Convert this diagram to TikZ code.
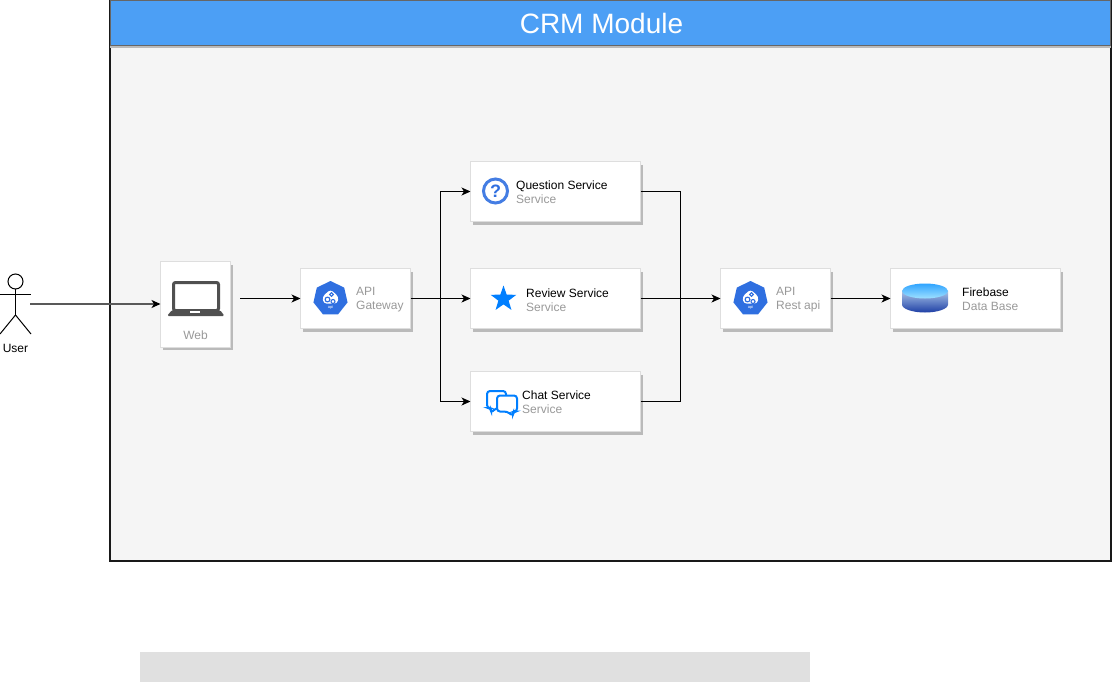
\documentclass[tikz,border=0pt]{standalone}
\usepackage{fontspec}
\setmainfont{Liberation Sans}
\usetikzlibrary{arrows.meta,shadows,shapes.geometric}
\definecolor{moduleBlue}{HTML}{4C9FF5}
\definecolor{kubeBlue}{HTML}{2F6FE0}
\definecolor{subGray}{HTML}{999999}
\definecolor{iconBlue}{HTML}{007FFF}
\definecolor{darkIcon}{HTML}{505050}
\definecolor{dbTop}{HTML}{2FA4FF}
\definecolor{dbTopLight}{HTML}{9FE0FF}
\definecolor{dbSide}{HTML}{A8C4E8}
\definecolor{dbSideDark}{HTML}{1E3FA5}
% blue heptagon with small gears
\newcommand{\apiicon}[3]{
    \node[regular polygon, regular polygon sides=7, fill=kubeBlue, inner sep=0pt, minimum size=35pt] (#1) at (#2,#3) {};
    \begin{scope}[shift={(#2,#3)}]
    \fill[white, rounded corners=3pt] (-8,-2) -- (0,-9) -- (8,-2) -- (7,5) -- (-7,5) -- cycle;
    \draw[kubeBlue, line width=1.1pt] (-3,1) circle (2.4);
    \draw[kubeBlue, line width=1.1pt] (2.5,3) circle (2);
    \draw[kubeBlue, line width=1.1pt] (1,-4) circle (1.8);
    \node[text=white, inner sep=0pt, font=\fontsize{4}{4}\selectfont] (#1text) at (0,8.5) {api};
    \end{scope}
}
\begin{document}
\begin{tikzpicture}[x=1pt, y=-1pt]
\tikzstyle{card} = [draw=black!13, line width=1pt, fill=white, outer sep=0pt, inner sep=0pt,
    drop shadow={shadow xshift=2.5pt, shadow yshift=-3pt, fill=black!27, opacity=1}]
\tikzstyle{cardtext} = [anchor=west, inner sep=0pt, align=left, font=\fontsize{12}{14}\selectfont]
\tikzstyle{conn} = [-{Stealth[length=9pt, width=8pt, inset=2.5pt, color=black]}, line width=1pt, black]
\useasboundingbox (0,0) rectangle (1113,682);

% module frame
\node[draw=black!90, line width=2pt, fill=black!4, minimum width=1000.5pt, minimum height=560pt, outer sep=0pt] (module) at (610.5,281) {};
\node[draw=black!60, line width=1pt, fill=moduleBlue, minimum width=1000.5pt, minimum height=45pt, outer sep=0pt,
    drop shadow={shadow xshift=0pt, shadow yshift=-2.5pt, fill=black!27, opacity=1}] (header) at (610.5,23.5) {};
\node[text=white, inner sep=0pt, font=\fontsize{28}{28}\selectfont] (title) at (601.5,23) {CRM Module};
\node[fill=black!12, minimum width=670pt, minimum height=30pt, outer sep=0pt] (bar) at (475,667) {};

% user
\node[draw, circle, line width=1pt, minimum size=15pt, inner sep=0pt, outer sep=0pt] (userHead) at (15.5,281.5) {};
\coordinate (userHip) at (15.5,315);
\coordinate (userArmL) at (0,294);
\coordinate (userArmR) at (31,294);
\coordinate (userFootL) at (0,334);
\coordinate (userFootR) at (31,334);
\coordinate (userHand) at (30,304);
\draw[line width=1pt] (userHead.south) -- (userHip);
\draw[line width=1pt] (userArmL) -- (userArmR);
\draw[line width=1pt] (userFootL) -- (userHip) -- (userFootR);
\node[inner sep=0pt, font=\fontsize{12}{14}\selectfont] (userLabel) at (15.5,348) {User};

% cards
\node[card, minimum width=70pt, minimum height=85.5pt] (web) at (195.5,304.25) {};
\node[card, minimum width=110pt, minimum height=60pt] (gateway) at (355.5,298.5) {};
\node[card, minimum width=170pt, minimum height=60pt] (question) at (555.5,191.5) {};
\node[card, minimum width=170pt, minimum height=60pt] (review) at (555.5,298.5) {};
\node[card, minimum width=170pt, minimum height=60pt] (chat) at (555.5,401.5) {};
\node[card, minimum width=110pt, minimum height=60pt] (restapi) at (775.5,298.5) {};
\node[card, minimum width=170pt, minimum height=60pt] (firebase) at (975.5,298.5) {};

% web icon
\node[draw=darkIcon, fill=white, line width=3pt, rounded corners=2pt, minimum width=45pt, minimum height=28pt, inner sep=0pt] (screen) at (196,296.5) {};
\fill[darkIcon, rounded corners=1.5pt] (167,316) -- (172,310) -- (220,310) -- (224.5,316) -- cycle;
\fill[white] (190,311) rectangle (200,313.3);
\node[text=subGray, inner sep=0pt, font=\fontsize{12}{14}\selectfont] (webLabel) at (195.5,335) {Web};

% gateway and rest api
\apiicon{gatewayIcon}{330.5}{298.5}
\node[cardtext, text=subGray] (gatewayLabel) at (356,299.5) {API\\Gateway};
\apiicon{restIcon}{750.5}{298.5}
\node[cardtext, text=subGray] (restLabel) at (776,299.5) {API\\Rest api};

% question service
\node[draw=kubeBlue!90, fill=white, circle, line width=3pt, minimum size=24pt, inner sep=0pt, text=kubeBlue, font=\bfseries\fontsize{18}{18}\selectfont] (questionIcon) at (495.5,191) {?};
\node[cardtext] (questionLabel) at (516,192) {Question Service\\\textcolor{subGray}{Service}};

% review service
\node[star, star points=5, star point ratio=2.5, fill=iconBlue, minimum size=27pt, inner sep=0pt] (reviewIcon) at (503.5,299) {};
\node[cardtext] (reviewLabel) at (526,300.5) {Review Service\\\textcolor{subGray}{Service}};

% chat service
\draw[iconBlue, line width=2pt, fill=white, rounded corners=3pt] (487,391) -- (506,391) -- (506,408) -- (496,408) -- (491,413) -- (491,408) -- (487,408) -- cycle;
\draw[iconBlue, line width=2pt, fill=white, rounded corners=3pt] (497,395.5) -- (517,395.5) -- (517,411.5) -- (513,411.5) -- (513,416) -- (507,411.5) -- (497,411.5) -- cycle;
\node[cardtext] (chatLabel) at (522,402.5) {Chat Service\\\textcolor{subGray}{Service}};

% data base icon
\path[top color=dbSide, bottom color=dbSideDark] (902,291) -- (902,304.5) arc[x radius=23, y radius=8, start angle=180, end angle=0] -- (948,291) -- cycle;
\path[top color=dbTop, bottom color=dbTopLight] (925,291) ellipse (23 and 7.5);
\node[cardtext] (firebaseLabel) at (962,299.5) {Firebase\\\textcolor{subGray}{Data Base}};

% connectors
\coordinate (webOut) at (240,298.5);
\coordinate (splitBus) at (440,298.5);
\coordinate (mergeBus) at (680,298.5);
\draw[conn, draw=black!65, line width=1.3pt] (userHand) -- (userHand -| web.west);
\draw[conn] (webOut) -- (gateway.west);
\draw[conn] (gateway.east) -- (review.west);
\draw[conn] (splitBus) |- (question.west);
\draw[conn] (splitBus) |- (chat.west);
\draw[line width=1pt] (question.east) -| (mergeBus);
\draw[line width=1pt] (chat.east) -| (mergeBus);
\draw[conn] (review.east) -- (restapi.west);
\draw[conn] (restapi.east) -- (firebase.west);
\end{tikzpicture}
\end{document}
